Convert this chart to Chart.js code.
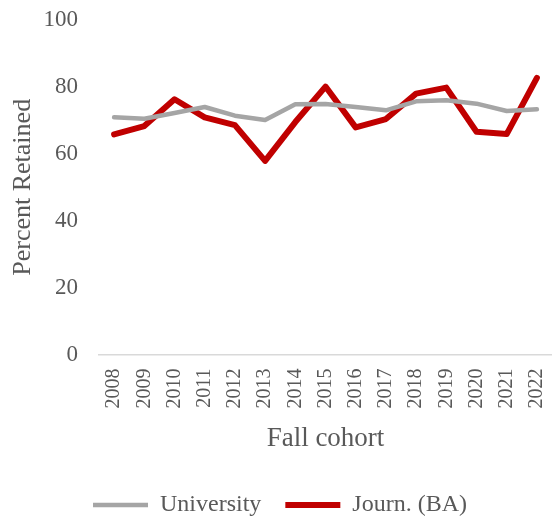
<!DOCTYPE html>
<html><head><meta charset="utf-8">
<script src="https://cdn.jsdelivr.net/npm/chart.js@4/dist/chart.umd.min.js"></script>
<style>html,body{margin:0;padding:0;background:#fff}#w{width:552px;height:519px}</style>
</head><body><div id="w"><canvas id="c"></canvas></div>
<script>
const years = ['2008','2009','2010','2011','2012','2013','2014','2015','2016','2017','2018','2019','2020','2021','2022'];
const university = [70.9,70.5,72.2,74.0,71.4,70.1,74.8,74.9,74.0,73.0,75.7,76.0,75.0,72.8,73.3];
const journBA = [65.8,68.3,76.3,70.9,68.6,57.9,69.5,80.1,67.9,70.4,78.0,79.8,66.6,65.9,82.7];
const yTicks = [0,20,40,60,80,100];
const serif = '"Liberation Serif","Times New Roman",serif';
new Chart(document.getElementById('c'), {
  type: 'line',
  data: { labels: years, datasets: [
    { label: 'University', data: university, borderColor: '#A5A5A5', backgroundColor: '#A5A5A5', borderWidth: 4.5, pointRadius: 0, tension: 0, borderCapStyle: 'round', borderJoinStyle: 'round' },
    { label: 'Journ. (BA)', data: journBA, borderColor: '#C00000', backgroundColor: '#C00000', borderWidth: 6, pointRadius: 0, tension: 0, borderCapStyle: 'round', borderJoinStyle: 'round' }
  ]},
  options: {
    responsive: true, maintainAspectRatio: false, animation: false,
    layout: { padding: { top: 20, right: 0, left: 8, bottom: -8 } },
    plugins: {
      tooltip: { enabled: false },
      legend: { position: 'bottom', labels: { color: '#595959', font: { family: serif, size: 24 }, usePointStyle: true, pointStyle: 'line', pointStyleWidth: 55, padding: 24 } }
    },
    scales: {
      x: { offset: true,
        afterFit: s => { s.paddingLeft = 0; s.paddingRight = 0; },
        grid: { display: false, drawTicks: false },
        border: { color: '#D9D9D9', width: 1.5 },
        ticks: { color: '#595959', font: { family: serif, size: 20 }, minRotation: 90, maxRotation: 90, padding: 14, autoSkip: false },
        title: { display: true, text: 'Fall cohort', color: '#595959', font: { family: serif, size: 27 }, padding: { top: 0, bottom: 14 } } },
      y: { min: 0, max: 100, afterBuildTicks: s => { s.ticks = yTicks.map(v => ({ value: v })); },
        afterFit: s => { s.width = 91; s.paddingTop = 0; s.paddingBottom = 0; },
        grid: { display: false, drawTicks: false },
        border: { display: false },
        ticks: { color: '#595959', font: { family: serif, size: 23 }, padding: 21 },
        title: { display: true, text: 'Percent Retained', color: '#595959', font: { family: serif, size: 26 }, padding: { top: 0, bottom: 6 } } }
    }
  }
});
</script></body></html>
